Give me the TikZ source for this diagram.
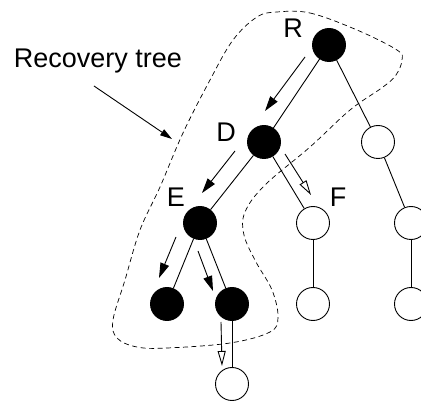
\documentclass[tikz,border=0pt]{standalone}
\usepackage{fontspec}
\setmainfont{Liberation Sans}
\usetikzlibrary{arrows.meta}

\begin{document}
\begin{tikzpicture}[x=1pt,y=-1pt,line width=0.9pt,
    dot/.style={circle,draw,fill=black,minimum size=33pt,inner sep=0pt},
    hole/.style={circle,draw,fill=white,minimum size=33pt,inner sep=0pt},
    lbl/.style={font=\fontsize{27}{31}\selectfont,anchor=base},
    flow/.style={-{Triangle[length=15pt,width=9pt]}},
    probe/.style={-{Triangle[open,length=15pt,width=8pt]}},
    hint/.style={-{Triangle[length=12pt,width=7pt]}}]
\useasboundingbox (0,0) rectangle (421,401);

    % recovery region
    \draw[line width=0.7pt,dash pattern=on 5pt off 3.5pt]
        plot[smooth cycle,tension=0.6] coordinates {
        (277,12) (310,13) (357,30) (397,50) (402,60) (396,75)
        (383,87) (350,110) (310,147) (265,185) (245,212) (244,235)
        (256,262) (272,290) (278,317) (270,332) (230,343) (167,348)
        (137,347) (117,338) (113,320) (125,280) (140,230) (160,187)
        (183,133) (210,80) (233,40) (257,17)};

    % tree
    \node[dot]  (R)  at (329,45)  {};
    \node[dot]  (D)  at (264,142) {};
    \node[hole] (W1) at (378,142) {};
    \node[dot]  (E)  at (200,223) {};
    \node[hole] (F)  at (313,223) {};
    \node[hole] (W2) at (411,223) {};
    \node[dot]  (L)  at (167,304) {};
    \node[dot]  (M)  at (232,304) {};
    \node[hole] (F2) at (313,304) {};
    \node[hole] (W3) at (411,304) {};
    \node[hole] (B)  at (232,384) {};

    \draw (R) -- (D);
    \draw (R) -- (W1);
    \draw (D) -- (E);
    \draw (D) -- (F);
    \draw (W1) -- (W2);
    \draw (W2) -- (W3);
    \draw (E) -- (L);
    \draw (E) -- (M);
    \draw (F) -- (F2);
    \draw (M) -- (B);

    % labels
    \node[lbl] (rlab) at (293,38)  {R};
    \node[lbl] (dlab) at (226,142) {D};
    \node[lbl] (elab) at (176,207) {E};
    \node[lbl] (flab) at (338,207) {F};
    \node[lbl] (tlab) at (98,68)   {Recovery tree};

    % flow arrows
    \coordinate (rd1) at (305,57);  \coordinate (rd2) at (265,111);
    \coordinate (de1) at (235,151); \coordinate (de2) at (202,193);
    \coordinate (el1) at (176,237); \coordinate (el2) at (159,278);
    \coordinate (em1) at (198,251); \coordinate (em2) at (213,291);
    \coordinate (df1) at (285,154); \coordinate (df2) at (311,195);
    \coordinate (mb1) at (221,322); \coordinate (mb2) at (222,366);
    \coordinate (tt1) at (94,86);   \coordinate (tt2) at (172,139);

    \draw[flow] (rd1) -- (rd2);
    \draw[flow] (de1) -- (de2);
    \draw[flow] (el1) -- (el2);
    \draw[flow] (em1) -- (em2);
    \draw[probe] (df1) -- (df2);
    \draw[probe] (mb1) -- (mb2);
    \draw[hint] (tt1) -- (tt2);
\end{tikzpicture}
\end{document}
